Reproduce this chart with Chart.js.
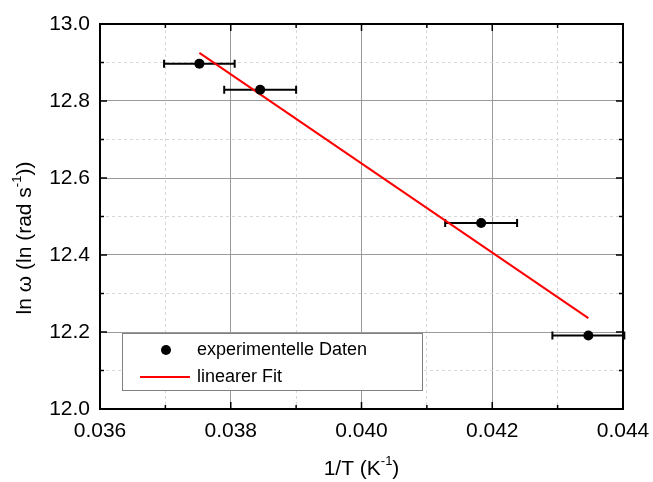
<!DOCTYPE html>
<html>
<head>
<meta charset="utf-8">
<script src="https://cdn.jsdelivr.net/npm/chart.js@4.4.0/dist/chart.umd.min.js"></script>
<style>
  html, body { margin: 0; padding: 0; background: #fff; }
</style>
</head>
<body>
<canvas id="c" width="653" height="482"></canvas>
<script>
// Measured values (1/T in K^-1, ln omega)
const xVals = [0.03752, 0.03845, 0.04183, 0.04347];
const yVals = [12.897, 12.829, 12.483, 12.191];
const xErr = [0.00054, 0.00055, 0.00055, 0.00055];

// Linear fit end points
const fitX = [0.03752, 0.04347];
const fitY = [12.925, 12.236];

const legendLabels = ['experimentelle Daten', 'linearer Fit'];

const FONT = "'Liberation Sans', Arial, sans-serif";

const isMajorX = v => Math.round(v * 1000) % 2 === 0;
const isMajorY = v => Math.round(v * 10) % 2 === 0;

// Draw text with superscript pieces, centered at (cx, cy)
function drawRich(ctx, parts, cx, cy, rot) {
  ctx.save();
  ctx.translate(cx, cy);
  ctx.rotate(rot || 0);
  ctx.textBaseline = 'middle';
  ctx.textAlign = 'left';
  ctx.fillStyle = '#000';
  let w = 0;
  parts.forEach(p => {
    ctx.font = (p.sup ? '13px ' : '21px ') + FONT;
    w += ctx.measureText(p.t).width;
  });
  let x = -w / 2;
  parts.forEach(p => {
    ctx.font = (p.sup ? '13px ' : '21px ') + FONT;
    ctx.fillText(p.t, x, p.sup ? -8 : 0);
    x += ctx.measureText(p.t).width;
  });
  ctx.restore();
}

const errorBars = {
  id: 'errorBars',
  beforeDatasetsDraw(chart) {
    const { ctx } = chart;
    const xs = chart.scales.x, ys = chart.scales.y;
    ctx.save();
    ctx.strokeStyle = '#000';
    ctx.lineWidth = 2;
    for (let i = 0; i < xVals.length; i++) {
      const x1 = xs.getPixelForValue(xVals[i] - xErr[i]);
      const x2 = xs.getPixelForValue(xVals[i] + xErr[i]);
      const y = ys.getPixelForValue(yVals[i]);
      ctx.beginPath();
      ctx.moveTo(x1, y); ctx.lineTo(x2, y);
      ctx.moveTo(x1, y - 4); ctx.lineTo(x1, y + 4);
      ctx.moveTo(x2, y - 4); ctx.lineTo(x2, y + 4);
      ctx.stroke();
    }
    ctx.restore();
  }
};

const frameAndExtras = {
  id: 'frameAndExtras',
  afterDraw(chart) {
    const { ctx, chartArea: a } = chart;
    const xs = chart.scales.x, ys = chart.scales.y;
    ctx.save();
    // inward ticks
    ctx.strokeStyle = '#000';
    ctx.lineWidth = 1.5;
    ctx.beginPath();
    xs.ticks.forEach(t => {
      const px = xs.getPixelForValue(t.value);
      const len = isMajorX(t.value) ? 7 : 4;
      ctx.moveTo(px, a.bottom); ctx.lineTo(px, a.bottom - len);
      ctx.moveTo(px, a.top); ctx.lineTo(px, a.top + len);
    });
    ys.ticks.forEach(t => {
      const py = ys.getPixelForValue(t.value);
      const len = isMajorY(t.value) ? 7 : 4;
      ctx.moveTo(a.left, py); ctx.lineTo(a.left + len, py);
      ctx.moveTo(a.right, py); ctx.lineTo(a.right - len, py);
    });
    ctx.stroke();
    // frame
    ctx.lineWidth = 2;
    ctx.strokeRect(a.left, a.top, a.right - a.left, a.bottom - a.top);

    // legend box
    ctx.fillStyle = '#fff';
    ctx.fillRect(122, 333, 300, 57);
    ctx.strokeStyle = '#808080';
    ctx.lineWidth = 1;
    ctx.strokeRect(122.5, 333.5, 300, 57);
    ctx.fillStyle = '#000';
    ctx.beginPath();
    ctx.arc(166, 350, 5, 0, Math.PI * 2);
    ctx.fill();
    ctx.strokeStyle = '#ff0000';
    ctx.lineWidth = 2;
    ctx.beginPath();
    ctx.moveTo(140, 377); ctx.lineTo(190, 377);
    ctx.stroke();
    ctx.font = '18px ' + FONT;
    ctx.textBaseline = 'middle';
    ctx.textAlign = 'left';
    ctx.fillText(legendLabels[0], 197, 350);
    ctx.fillText(legendLabels[1], 197, 377);

    // axis titles
    drawRich(ctx, [{ t: '1/T (K' }, { t: '-1', sup: true }, { t: ')' }], (a.left + a.right) / 2, 469, 0);
    drawRich(ctx, [{ t: 'ln \u03c9 (ln (rad s' }, { t: '-1', sup: true }, { t: '))' }], 25, 238, -Math.PI / 2);
    ctx.restore();
  }
};

new Chart(document.getElementById('c'), {
  type: 'scatter',
  data: {
    datasets: [
      {
        label: legendLabels[0],
        data: xVals.map((x, i) => ({ x: x, y: yVals[i] })),
        backgroundColor: '#000',
        borderColor: '#000',
        borderWidth: 0,
        pointRadius: 5,
        showLine: false,
        order: 1
      },
      {
        label: legendLabels[1],
        data: fitX.map((x, i) => ({ x: x, y: fitY[i] })),
        borderColor: '#ff0000',
        borderWidth: 2,
        pointRadius: 0,
        showLine: true,
        order: 2
      }
    ]
  },
  options: {
    responsive: false,
    animation: false,
    layout: { padding: { left: 0, right: 30, top: 24, bottom: 0 } },
    plugins: {
      legend: { display: false },
      tooltip: { enabled: false }
    },
    scales: {
      x: {
        type: 'linear',
        min: 0.036,
        max: 0.044,
        afterFit(s) { s.height = 73; s.paddingLeft = 0; s.paddingRight = 0; },
        ticks: {
          stepSize: 0.001,
          autoSkip: false,
          maxRotation: 0,
          padding: 10,
          color: '#000',
          font: { size: 21, family: FONT },
          callback: v => isMajorX(v) ? v.toFixed(3) : ''
        },
        grid: {
          drawTicks: false,
          lineWidth: 1,
          color: c => (c.tick && isMajorX(c.tick.value)) ? '#9a9a9a' : '#d8d8d8'
        },
        border: {
          display: false,
          dash: c => (c.tick && !isMajorX(c.tick.value)) ? [3, 3] : []
        }
      },
      y: {
        type: 'linear',
        min: 12.0,
        max: 13.0,
        afterFit(s) { s.width = 100; s.paddingTop = 0; s.paddingBottom = 0; },
        ticks: {
          stepSize: 0.1,
          autoSkip: false,
          padding: 10,
          color: '#000',
          font: { size: 21, family: FONT },
          callback: v => isMajorY(v) ? v.toFixed(1) : ''
        },
        grid: {
          drawTicks: false,
          lineWidth: 1,
          color: c => (c.tick && isMajorY(c.tick.value)) ? '#9a9a9a' : '#d8d8d8'
        },
        border: {
          display: false,
          dash: c => (c.tick && !isMajorY(c.tick.value)) ? [3, 3] : []
        }
      }
    }
  },
  plugins: [errorBars, frameAndExtras]
});
</script>
</body>
</html>
